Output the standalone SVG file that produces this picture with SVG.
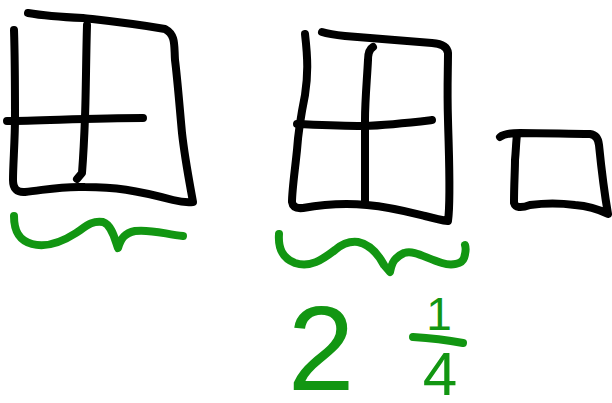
<svg xmlns="http://www.w3.org/2000/svg" width="612" height="403" viewBox="0 0 612 403">
<style>
.ink{fill:none;stroke:#000;stroke-width:8;stroke-linecap:round;stroke-linejoin:round}
.grn{fill:none;stroke:#129612;stroke-width:8;stroke-linecap:round;stroke-linejoin:round}
.num{fill:#129612;font-family:"Liberation Sans","DejaVu Sans",sans-serif}
</style>
<rect width="612" height="403" fill="#fff"/>
<g id="square1">
<path class="ink" d="M14,30 C15,60 15,90 15,117 C15,140 13,165 13,180 Q13,193 25,192 C45,190 60,186 85,187 C115,187 135,190 173,200 Q185,203 193,202 C190,185 185,160 182,133 C179,100 177,75 175,60 C174,45 176,35 165,29 C130,23 100,20 83,18 C60,17 45,16 28,13"/>
<path class="ink" d="M87,25 C86,60 86,90 85,117 C84,145 83,160 82,173 L77,179"/>
<path class="ink" d="M7,121 C40,121 90,118 143,118"/>
</g>
<g id="square2">
<path class="ink" d="M305,34 C308,60 308,75 305,95 C301,115 298,135 297,150 C295,170 292,190 292,202 Q293,209 303,208 C320,205 345,203 367,205 C390,207 405,211 425,216 Q440,220 448,221 C451,200 449,160 448,120 C447,90 448,70 448,53 Q447,44 432,43 C410,41 380,39 345,36 C335,35 328,34 322,32"/>
<path class="ink" d="M373,47 Q368,50 368,60 C367,80 365,100 365,120 C365,150 365,180 365,202"/>
<path class="ink" d="M297,124 C320,125 340,126 363,126 C390,125 415,122 432,120"/>
</g>
<g id="square3">
<path class="ink" d="M500,137 Q505,133 520,133 C545,133 570,134 590,134 Q598,135 599,145 C601,165 603,185 608,214 C600,210 590,206 575,205 C560,203 545,203 530,205 Q516,210 514,203 C514,185 515,170 515,160 C516,150 516,142 517,135"/>
</g>
<g id="brace1">
<path class="grn" d="M14,216 C14,230 18,240 32,244 C47,248 62,242 76,233 C85,227 92,220 103,222 C112,225 115,240 118,248 C121,238 125,233 135,231 C150,229 165,234 183,236"/>
</g>
<g id="brace2">
<path class="grn" d="M279,234 C278,248 282,258 295,263 C310,268 322,260 335,250 C342,244 350,241 358,242 C368,244 376,250 384,265 L390,272 C392,262 395,257 404,253 C415,250 425,258 442,263 C452,266 462,264 464,258 C466,252 466,248 465,245"/>
</g>
<g id="label">
<text class="num" x="321" y="390" font-size="120" text-anchor="middle">2</text>
<text class="num" x="439" y="330" font-size="46" text-anchor="middle">1</text>
<path class="grn" d="M413,337 C430,338 447,340 463,343"/>
<text class="num" x="440" y="395" font-size="62" text-anchor="middle">4</text>
</g>
</svg>
